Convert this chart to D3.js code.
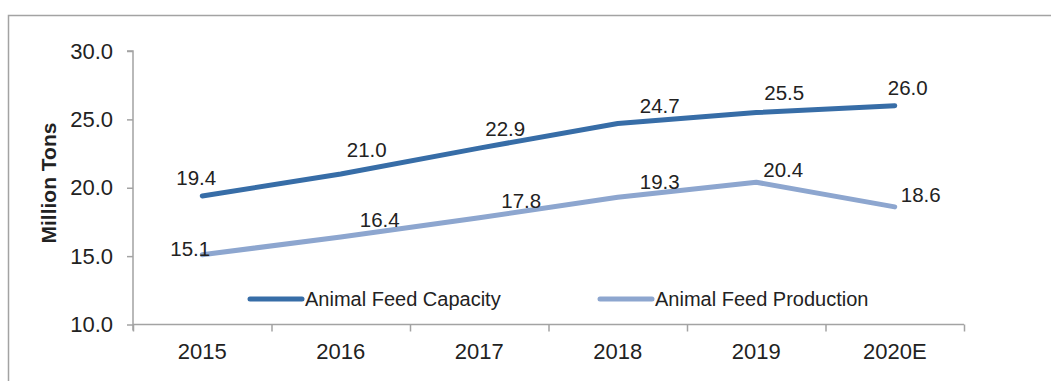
<!DOCTYPE html>
<html>
<head>
<meta charset="utf-8">
<script src="https://cdn.jsdelivr.net/npm/d3@7"></script>
<style>
  html, body { margin: 0; padding: 0; background: #fff; }
  svg { display: block; font-family: "Liberation Sans", Arial, sans-serif; }
</style>
</head>
<body>
<svg id="chart" width="1051" height="381"></svg>
<script>
// Categories and series
const years = ["2015", "2016", "2017", "2018", "2019", "2020E"];
const capacity = [19.4, 21.0, 22.9, 24.7, 25.5, 26.0];
const production = [15.1, 16.4, 17.8, 19.3, 20.4, 18.6];
const yTicks = [10, 15, 20, 25, 30];
const seriesNames = ["Animal Feed Capacity", "Animal Feed Production"];

// Label nudges (dx, dy from each point to the label centre)
const capLabelOffsets = [[-6, -18], [26, -24], [26, -19], [42, -18], [28, -20], [13, -18]];
const prodLabelOffsets = [[-12, -6], [39, -17], [42, -17], [42, -16], [27, -13], [26, -12]];

const colors = ["#376da7", "#8da6cf"];
const axisColor = "#a3a3a3";
const textColor = "#222";

const svg = d3.select("#chart");

// Outer frame (open to the right and bottom)
svg.append("rect")
  .attr("x", 8.5).attr("y", 15.5)
  .attr("width", 1100).attr("height", 400)
  .attr("fill", "none").attr("stroke", axisColor).attr("stroke-width", 1.5);

const plot = { left: 133, right: 964, top: 51, bottom: 324.5 };

const x = d3.scaleBand().domain(years).range([plot.left, plot.right]).padding(0);
const xIdx = d3.scaleLinear().domain([0, years.length]).range([plot.left, plot.right]);
const y = d3.scaleLinear().domain([10, 30]).range([plot.bottom, plot.top]);
const cx = d => x(d) + x.bandwidth() / 2;

// Y axis
const yAxis = svg.append("g")
  .attr("transform", `translate(${plot.left},0)`)
  .call(d3.axisLeft(y).tickValues(yTicks).tickFormat(d3.format(".1f")).tickSize(6).tickPadding(14));
yAxis.select(".domain").attr("stroke", axisColor).attr("stroke-width", 1.5)
  .attr("d", `M-6,${y(30)}H0V${plot.bottom + 6}`);
yAxis.selectAll(".tick line").attr("stroke", axisColor).attr("stroke-width", 1.5);
yAxis.selectAll(".tick text").attr("fill", textColor).style("font-size", "22px");

// X axis: boundary ticks
const xAxis = svg.append("g")
  .attr("transform", `translate(0,${plot.bottom})`)
  .call(d3.axisBottom(xIdx).tickValues(d3.range(years.length + 1)).tickSize(7).tickFormat(""));
xAxis.select(".domain").attr("stroke", axisColor).attr("stroke-width", 1.5)
  .attr("d", `M${plot.left},0H${plot.right}`);
xAxis.selectAll(".tick line").attr("stroke", axisColor).attr("stroke-width", 1.5);

// X axis: category labels centred in each band
const xLabels = svg.append("g")
  .attr("transform", `translate(0,${plot.bottom})`)
  .call(d3.axisBottom(x).tickSize(0).tickPadding(19));
xLabels.select(".domain").remove();
xLabels.selectAll(".tick text").attr("fill", textColor).style("font-size", "22px");

// Y axis title
svg.append("text")
  .attr("transform", `translate(56,183) rotate(-90)`)
  .attr("text-anchor", "middle")
  .attr("fill", textColor)
  .style("font-size", "21px").style("font-weight", "bold")
  .text("Million Tons");

// Lines
const line = d3.line().x((d, i) => cx(years[i])).y(d => y(d));
const allSeries = [capacity, production];
const allOffsets = [capLabelOffsets, prodLabelOffsets];

allSeries.forEach((vals, s) => {
  svg.append("path")
    .datum(vals)
    .attr("d", line)
    .attr("fill", "none")
    .attr("stroke", colors[s])
    .attr("stroke-width", 5)
    .attr("stroke-linecap", "round")
    .attr("stroke-linejoin", "round");

  svg.append("g").selectAll("text")
    .data(vals)
    .join("text")
    .attr("x", (d, i) => cx(years[i]) + allOffsets[s][i][0])
    .attr("y", (d, i) => y(d) + allOffsets[s][i][1])
    .attr("dy", "0.36em")
    .attr("text-anchor", "middle")
    .attr("fill", textColor)
    .style("font-size", "20.5px")
    .text(d => d.toFixed(1));
});

// Legend
const legendPos = [250, 600];
const legend = svg.append("g");
seriesNames.forEach((name, s) => {
  legend.append("line")
    .attr("x1", legendPos[s]).attr("x2", legendPos[s] + 52)
    .attr("y1", 299).attr("y2", 299)
    .attr("stroke", colors[s]).attr("stroke-width", 5)
    .attr("stroke-linecap", "round");
  legend.append("text")
    .attr("x", legendPos[s] + 55).attr("y", 306)
    .attr("fill", textColor)
    .style("font-size", "20px")
    .text(name);
});
</script>
</body>
</html>
